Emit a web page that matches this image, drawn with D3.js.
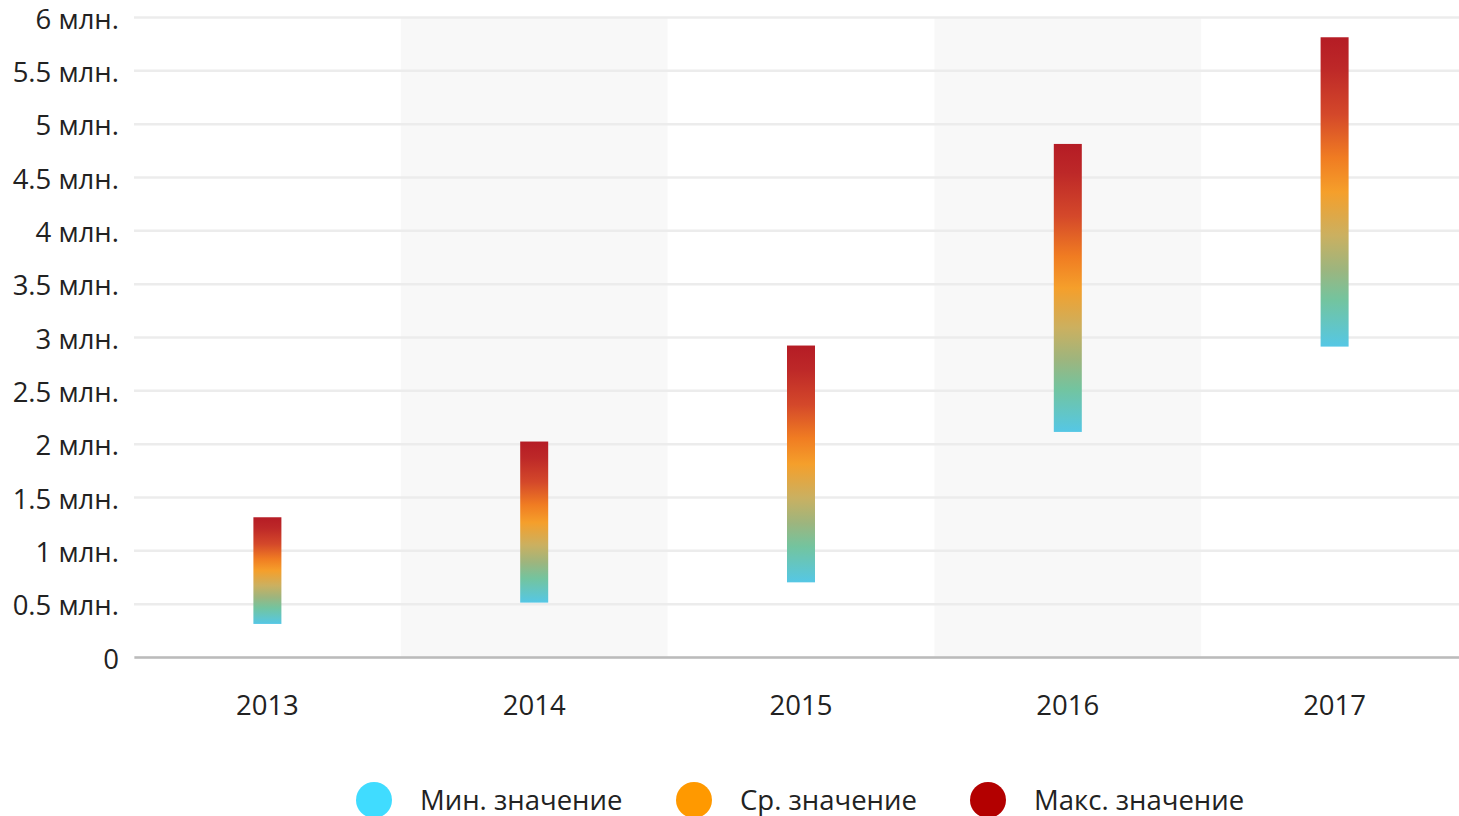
<!DOCTYPE html>
<html><head><meta charset="utf-8">
<script src="https://cdn.jsdelivr.net/npm/d3@7"></script>
<style>html,body{margin:0;padding:0;background:#fff;overflow:hidden}svg{display:block}</style>
</head><body>
<svg id="c" width="1459" height="816"></svg>
<script>
const years = ["2013","2014","2015","2016","2017"];
const minValues = [0.31, 0.51, 0.70, 2.11, 2.91];
const avgValues = [0.81, 1.26, 1.81, 3.46, 4.36];
const maxValues = [1.31, 2.02, 2.92, 4.81, 5.81];
const yTicks = [0, 0.5, 1, 1.5, 2, 2.5, 3, 3.5, 4, 4.5, 5, 5.5, 6];
const legendLabels = ["Мин. значение", "Ср. значение", "Макс. значение"];
const legendColors = ["#40dcff", "#ff9900", "#b30000"];

(function(){
const svg = d3.select("#c");
const mL = 134, mR = 1468, mT = 17, mB = 657;
const x = d3.scaleBand().domain(years).range([mL, mR]).padding(0);
const y = d3.scaleLinear().domain([0, 6]).range([mB, mT]);
const font = "'Open Sans', sans-serif";

// alternating bands
svg.append("g").selectAll("rect").data(years.filter((d,i)=>i%2===1)).join("rect")
  .attr("x", d=>x(d)).attr("y", mT).attr("width", x.bandwidth()).attr("height", mB-mT)
  .attr("fill", "#f8f8f8");

// grid
const yAxis = d3.axisLeft(y).tickValues(yTicks).tickSize(-(mR-mL)).tickPadding(15)
  .tickFormat(d => d===0 ? "0" : d + " млн.");
const gy = svg.append("g").attr("transform", `translate(${mL},0)`).call(yAxis);
gy.select(".domain").remove();
gy.selectAll(".tick line").attr("stroke", "#ececec").attr("stroke-width", 2.5);
gy.selectAll(".tick text").attr("font-family", font).attr("font-size", 27.5).attr("fill", "#222")
  .attr("x", -15).attr("dy", "0.4em");

// x axis
const gx = svg.append("g").attr("transform", `translate(0,${mB})`)
  .call(d3.axisBottom(x).tickSize(0).tickPadding(38));
gx.select(".domain").attr("stroke", "#bbbbbb").attr("stroke-width", 2.5);
gx.selectAll(".tick text").attr("font-family", font).attr("font-size", 27.5).attr("fill", "#222");

// gradients
const defs = svg.append("defs");
years.forEach((yr, i) => {
  const mid = (maxValues[i]-avgValues[i])/(maxValues[i]-minValues[i]);
  const g = defs.append("linearGradient").attr("id", "g"+i)
    .attr("x1", 0).attr("y1", 0).attr("x2", 0).attr("y2", 1);
  const stops = [
    [0, "#b51c25"], [mid*0.2, "#bd2828"], [mid*0.5, "#d4482a"], [mid*0.78, "#f07c22"],
    [mid, "#f59f2b"], [mid+(1-mid)*0.28, "#cbb060"], [mid+(1-mid)*0.5, "#9db57e"],
    [mid+(1-mid)*0.7, "#73c49f"], [1, "#55c7e5"]
  ];
  stops.forEach(s => g.append("stop").attr("offset", s[0]).attr("stop-color", s[1]));
});

const bw = 28;
svg.append("g").selectAll("rect").data(years).join("rect")
  .attr("x", d => x(d) + x.bandwidth()/2 - bw/2)
  .attr("y", (d,i) => y(maxValues[i]))
  .attr("width", bw)
  .attr("height", (d,i) => y(minValues[i]) - y(maxValues[i]))
  .attr("fill", (d,i) => `url(#g${i})`);

// legend
const legX = [374, 694, 988];
const lg = svg.append("g");
legendLabels.forEach((l, i) => {
  lg.append("circle").attr("cx", legX[i]).attr("cy", 800).attr("r", 18).attr("fill", legendColors[i]);
  lg.append("text").attr("x", legX[i]+46).attr("y", 810).attr("font-family", font)
    .attr("font-size", 27.5).attr("fill", "#222").text(l);
});
})();
</script>
</body></html>
